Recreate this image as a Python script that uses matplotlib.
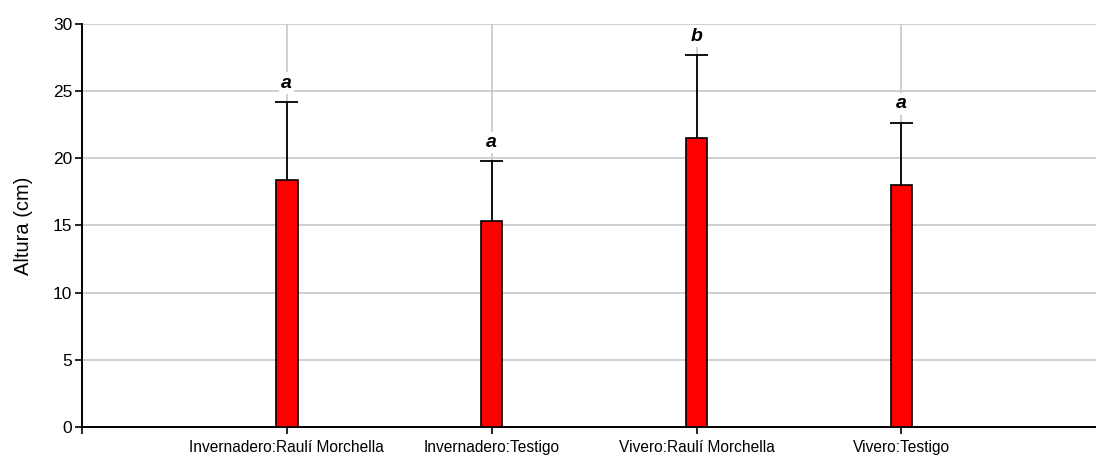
import matplotlib.pyplot as plt
import numpy as np

plt.rcParams['font.family'] = ['Liberation Sans', 'DejaVu Sans']

# Treatment groups, mean height and error bar (cm), significance letters
grupos = ['Invernadero:Raulí Morchella', 'Invernadero:Testigo',
          'Vivero:Raulí Morchella', 'Vivero:Testigo']
altura = [18.4, 15.3, 21.5, 18.0]
error = [5.8, 4.5, 6.2, 4.65]
letras = ['a', 'a', 'b', 'a']

fig = plt.figure(figsize=(10.96, 4.57), dpi=100)
ax = fig.add_axes([0.0748, 0.0656, 0.9252, 0.882])

x = np.arange(1, len(grupos) + 1)
tope = np.array(altura) + np.array(error)

ax.bar(x, altura, width=0.105, color='#ff0000', edgecolor='black',
       linewidth=1.2, zorder=3)
# upper error bar only: stem + cap
ax.vlines(x, altura, tope, color='black', linewidth=1.3, zorder=2)
ax.hlines(tope, x - 0.056, x + 0.056, color='black', linewidth=1.3, zorder=2)

for xi, t, l in zip(x, tope, letras):
    ax.text(xi, t + 1.4, l, ha='center', va='center', fontsize=14,
            fontweight='bold', fontstyle='italic', zorder=4,
            bbox=dict(facecolor='white', edgecolor='none', pad=1.5))

ax.set_xlim(0, 4.95)
ax.set_ylim(0, 30)
ax.set_yticks(np.arange(0, 31, 5))
ax.set_xticks(np.arange(0, 5))
ax.set_xticklabels([''] + grupos, fontsize=11.2)

ax.grid(True, color='#c8c8c8', linewidth=1.2, zorder=0)
ax.set_axisbelow(True)

for s in ['top', 'right']:
    ax.spines[s].set_visible(False)
for s in ['left', 'bottom']:
    ax.spines[s].set_linewidth(1.4)

ax.tick_params(axis='both', direction='out', length=5, width=1.2,
               colors='black')
ax.tick_params(axis='y', labelsize=12.5, pad=2)
ax.tick_params(axis='x', pad=4)
ax.set_ylabel('Altura (cm)', fontsize=14.5, labelpad=14)

fig.savefig('out.png', dpi=100)
